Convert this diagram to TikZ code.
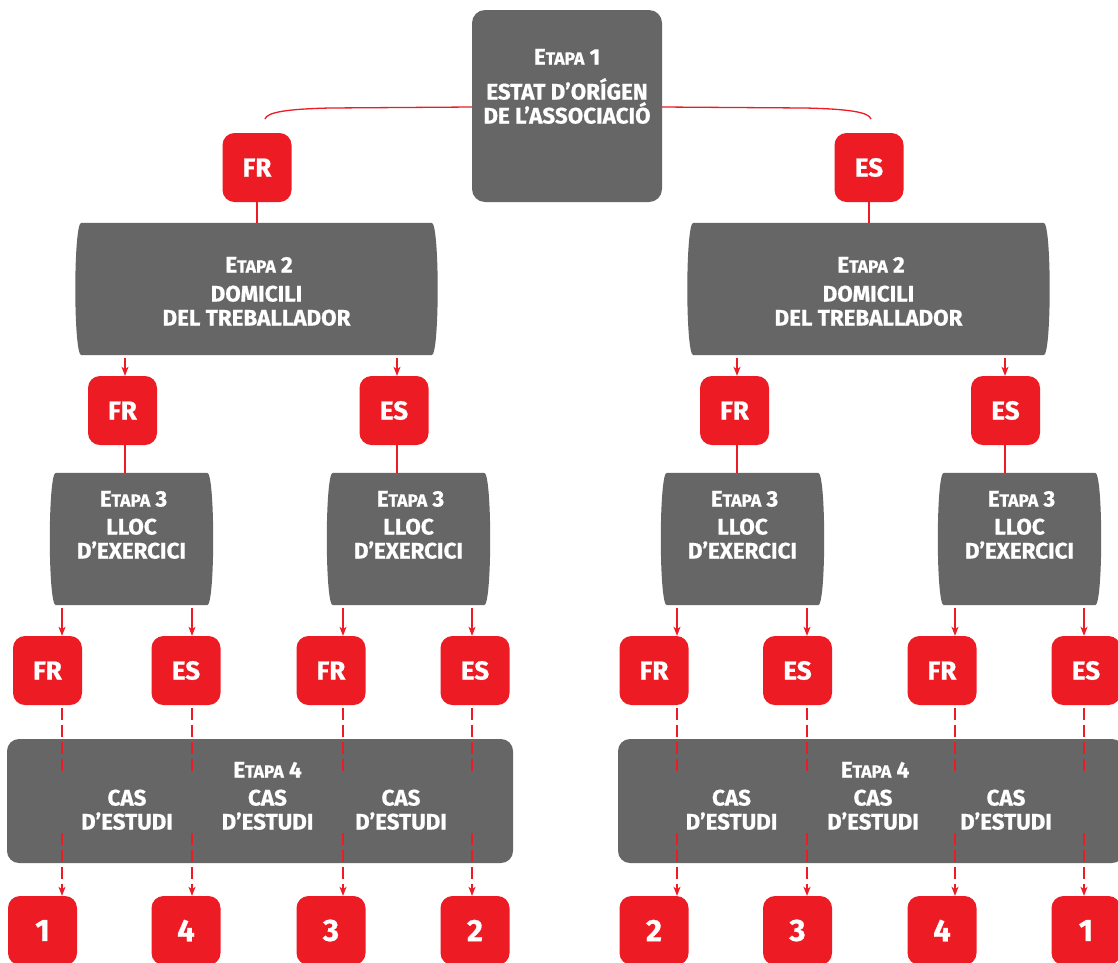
\documentclass[tikz,border=0pt]{standalone}
\usepackage{fontspec}
\setmainfont{Fira Sans}[BoldFeatures={FakeBold=0.8}]
\usetikzlibrary{arrows.meta}
\definecolor{boxgray}{HTML}{666666}
\definecolor{rd}{HTML}{ED1C24}
\newcommand\etapa[1]{E{\fontsize{17.5}{17.5}\selectfont TAPA}~#1}
\newcommand\barrel[1]{%
  \fill[boxgray] ([xshift=5pt]#1.north west) -- ([xshift=-5pt]#1.north east)
    .. controls ([xshift=3pt]#1.north east) and ([xshift=3pt]#1.south east) .. ([xshift=-5pt]#1.south east)
    -- ([xshift=5pt]#1.south west)
    .. controls ([xshift=-3pt]#1.south west) and ([xshift=-3pt]#1.north west) .. cycle;}
\begin{document}
\begin{tikzpicture}[x=1pt,y=-1pt,
  graybox/.style={inner sep=0pt, draw=none, minimum height=132pt},
  flatbox/.style={fill=boxgray, rounded corners=12pt, inner sep=0pt},
  redbox/.style={fill=rd, rounded corners=12pt, minimum width=69pt, minimum height=69pt, inner sep=0pt, text=white, font=\bfseries\fontsize{26}{26}\selectfont},
  numbox/.style={redbox, font=\bfseries\fontsize{31}{31}\selectfont},
  txt/.style={text=white, inner sep=0pt, anchor=base, font=\bfseries\fontsize{22.4}{24}\selectfont},
  conn/.style={draw=rd, line width=1.3pt},
  arr/.style={conn, -{Stealth[length=9pt,width=7pt,inset=2.5pt]}},
  dsh/.style={conn, dash pattern=on 12pt off 5pt}]
\useasboundingbox (0,0) rectangle (1118,962);
\fill[white] (0,0) rectangle (1118,962);

% ---- gray boxes ----
\node[flatbox, rounded corners=13pt, minimum width=190pt, minimum height=192pt] (e1) at (567,106) {};
\node[graybox, minimum width=360pt] (e2a) at (256.5,289) {};
\node[graybox, minimum width=360pt] (e2b) at (868.5,289) {};
\barrel{e2a}\barrel{e2b}
\node[graybox, minimum width=161pt] (e3a) at (131.5,539) {};
\node[graybox, minimum width=161pt] (e3b) at (408.5,539) {};
\node[graybox, minimum width=161pt] (e3c) at (742.5,539) {};
\node[graybox, minimum width=161pt] (e3d) at (1019.5,539) {};
\barrel{e3a}\barrel{e3b}\barrel{e3c}\barrel{e3d}
\node[flatbox, minimum width=506pt, minimum height=124pt] (e4a) at (260,801) {};
\node[flatbox, minimum width=506pt, minimum height=124pt] (e4b) at (871,801) {};

% ---- texts ----
\node[txt] (t1a) at (567,64.5) {\etapa{1}};
\node[txt] (t1b) at (567,99.5) {ESTAT D’ORÍGEN};
\node[txt] (t1c) at (567,123.5) {DE L’ASSOCIACIÓ};

\node[txt] (t2a) at (259,272.5) {\etapa{2}};
\node[txt] (t2b) at (256.5,301.5) {DOMICILI};
\node[txt] (t2c) at (256.5,325.5) {DEL TREBALLADOR};
\node[txt] (t2d) at (871,272.5) {\etapa{2}};
\node[txt] (t2e) at (868.5,301.5) {DOMICILI};
\node[txt] (t2f) at (868.5,325.5) {DEL TREBALLADOR};

\foreach \cx [count=\i] in {131.5,408.5,742.5,1019.5}{
  \node[txt] (t3a\i) at (\cx+2,506.5) {\etapa{3}};
  \node[txt] (t3b\i) at (\cx,534.5) {LLOC};
  \node[txt] (t3c\i) at (\cx,558.5) {D’EXERCICI};
}

\node[txt] (t4a) at (267.5,777.5) {\etapa{4}};
\node[txt] (t4b) at (875,777.5) {\etapa{4}};
\foreach \cx [count=\i] in {127,267.5,401,731.5,873,1006}{
  \node[txt] (c4a\i) at (\cx,805.5) {CAS};
  \node[txt] (c4b\i) at (\cx,829.5) {D’ESTUDI};
}

% ---- red boxes ----
\node[redbox] (f1) at (257,167.5) {FR};
\node[redbox] (f2) at (869,167.5) {ES};

\node[redbox] (g1) at (122.5,410.5) {FR};
\node[redbox] (g2) at (394,410.5) {ES};
\node[redbox] (g3) at (734.5,410.5) {FR};
\node[redbox] (g4) at (1005.5,410.5) {ES};

\node[redbox] (h1) at (47.5,670.5) {FR};
\node[redbox] (h2) at (186,670.5) {ES};
\node[redbox] (h3) at (331,670.5) {FR};
\node[redbox] (h4) at (475,670.5) {ES};
\node[redbox] (h5) at (654,670.5) {FR};
\node[redbox] (h6) at (797.5,670.5) {ES};
\node[redbox] (h7) at (942,670.5) {FR};
\node[redbox] (h8) at (1086,670.5) {ES};

\node[numbox] (n1) at (42.5,930.5) {1};
\node[numbox] (n2) at (186,930.5) {4};
\node[numbox] (n3) at (331,930.5) {3};
\node[numbox] (n4) at (475,930.5) {2};
\node[numbox] (n5) at (654,930.5) {2};
\node[numbox] (n6) at (797.5,930.5) {3};
\node[numbox] (n7) at (942,930.5) {4};
\node[numbox] (n8) at (1086,930.5) {1};

% ---- column coordinates ----
\coordinate (tL) at (0,107);
\coordinate (dA) at (0,772);
\coordinate (dB) at (0,833);
\foreach \x [count=\i] in {125,397,737,1005}{ \coordinate (j\i) at (\x,0); }
\foreach \x [count=\i] in {62,192,343,472,677,807,955,1084}{ \coordinate (k\i) at (\x,0); }
\coordinate (cl) at (265,119);
\coordinate (cr) at (871,119);

% ---- connectors ----
\draw[conn] (e1.west |- tL) -- (330,108) .. controls (288,109) and (267,112) .. (cl);
\draw[conn] (e1.east |- tL) -- (805,108) .. controls (848,109) and (869,112) .. (cr);

\draw[conn] (f1.south) -- (f1.south |- e2a.north);
\draw[conn] (f2.south) -- (f2.south |- e2b.north);

\draw[arr, shorten <=3pt] (e2a.south -| j1) -- (g1.north -| j1);
\draw[arr, shorten <=3pt] (e2a.south -| j2) -- (g2.north -| j2);
\draw[arr, shorten <=3pt] (e2b.south -| j3) -- (g3.north -| j3);
\draw[arr, shorten <=3pt] (e2b.south -| j4) -- (g4.north -| j4);

\draw[conn] (g1.south -| j1) -- (e3a.north -| j1);
\draw[conn] (g2.south -| j2) -- (e3b.north -| j2);
\draw[conn] (g3.south -| j3) -- (e3c.north -| j3);
\draw[conn] (g4.south -| j4) -- (e3d.north -| j4);

\draw[arr, shorten <=3pt] (e3a.south -| k1) -- (h1.north -| k1);
\draw[arr, shorten <=3pt] (e3a.south -| k2) -- (h2.north -| k2);
\draw[arr, shorten <=3pt] (e3b.south -| k3) -- (h3.north -| k3);
\draw[arr, shorten <=3pt] (e3b.south -| k4) -- (h4.north -| k4);
\draw[arr, shorten <=3pt] (e3c.south -| k5) -- (h5.north -| k5);
\draw[arr, shorten <=3pt] (e3c.south -| k6) -- (h6.north -| k6);
\draw[arr, shorten <=3pt] (e3d.south -| k7) -- (h7.north -| k7);
\draw[arr, shorten <=3pt] (e3d.south -| k8) -- (h8.north -| k8);

\foreach \i in {1,...,8}{
  \draw[dsh, shorten <=3pt] (h\i.south -| k\i) -- (k\i |- dA);
  \draw[dsh, arr] (k\i |- dB) -- (n\i.north -| k\i);
}
\end{tikzpicture}
\end{document}
